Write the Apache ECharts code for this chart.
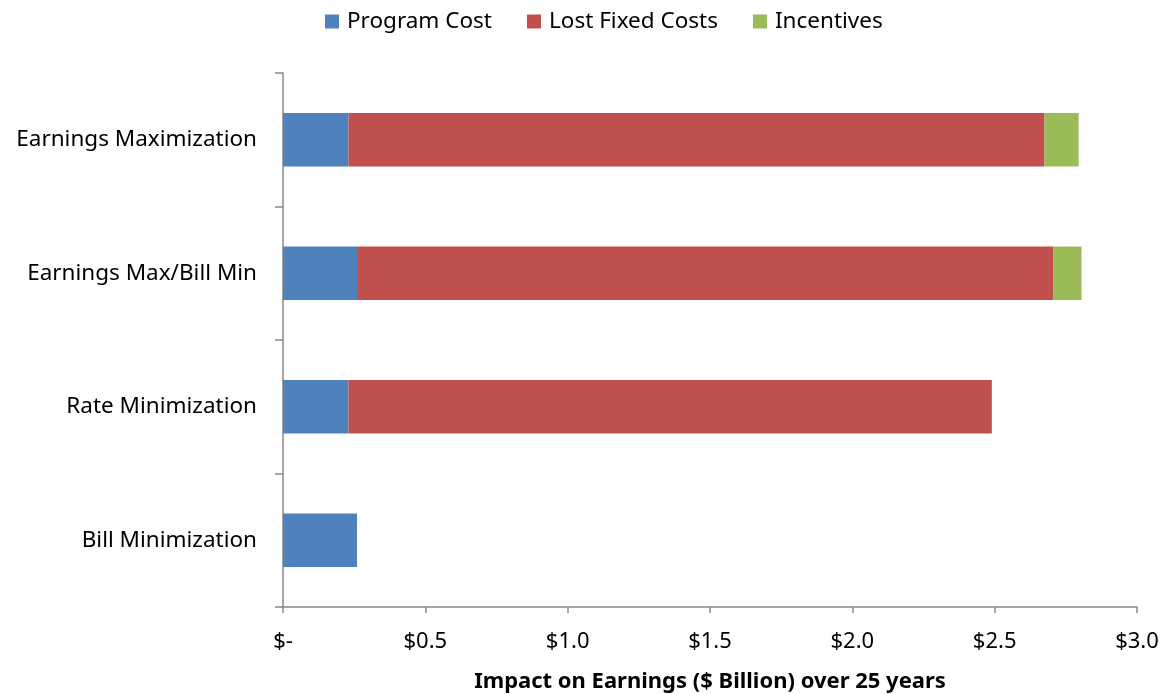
<!DOCTYPE html>
<html>
<head>
<meta charset="utf-8">
<script src="https://cdn.jsdelivr.net/npm/echarts@6/dist/echarts.min.js"></script>
<style>
  html, body { margin: 0; padding: 0; background: #fff; }
  #chart { width: 1163px; height: 694px; }
</style>
</head>
<body>
<div id="chart"></div>
<script>
// Scenarios, listed bottom to top as the category axis draws them
const categories = ['Bill Minimization', 'Rate Minimization', 'Earnings Max/Bill Min', 'Earnings Maximization'];
const programCost = [0.26, 0.23, 0.26, 0.23];
const lostFixedCosts = [0, 2.26, 2.445, 2.445];
const incentives = [0, 0, 0.10, 0.12];
const seriesNames = ['Program Cost', 'Lost Fixed Costs', 'Incentives'];
const colors = ['#4F81BD', '#C0504D', '#9BBB59'];
const axisTitle = 'Impact on Earnings ($ Billion) over 25 years';

const font = '"Noto Sans", "Open Sans", sans-serif';
const chart = echarts.init(document.getElementById('chart'));

function barSeries(name, data, color) {
  return {
    name: name,
    type: 'bar',
    stack: 'total',
    data: data,
    barWidth: '40%',
    itemStyle: { color: color },
    emphasis: { disabled: true }
  };
}

chart.setOption({
  animation: false,
  textStyle: { fontFamily: font },
  legend: {
    top: 5,
    left: 320,
    itemWidth: 14,
    itemHeight: 14,
    itemGap: 35,
    icon: 'rect',
    textStyle: { fontSize: 22.5, color: '#000', fontFamily: font, padding: [0, 0, 0, 3] },
    data: seriesNames
  },
  grid: { left: 283, right: 26, top: 73, bottom: 87, containLabel: false, outerBoundsMode: 'none' },
  xAxis: {
    type: 'value',
    min: 0,
    max: 3,
    interval: 0.5,
    name: axisTitle,
    nameLocation: 'middle',
    nameGap: 64,
    nameTextStyle: { fontSize: 22, fontWeight: 'bold', color: '#000', fontFamily: font },
    axisLine: { show: true, lineStyle: { color: '#898989', width: 1.5 } },
    axisTick: { show: true, length: 6, lineStyle: { color: '#898989', width: 1.5 } },
    axisLabel: {
      fontSize: 22, color: '#000', margin: 24,
      formatter: v => v === 0 ? '$-' : '$' + v.toFixed(1)
    },
    splitLine: { show: false }
  },
  yAxis: {
    type: 'category',
    data: categories,
    axisLine: { show: true, lineStyle: { color: '#898989', width: 1.5 } },
    axisTick: { show: true, length: 8, lineStyle: { color: '#898989', width: 1.5 } },
    axisLabel: { fontSize: 22.5, color: '#000', margin: 26 }
  },
  series: [
    barSeries(seriesNames[0], programCost, colors[0]),
    barSeries(seriesNames[1], lostFixedCosts, colors[1]),
    barSeries(seriesNames[2], incentives, colors[2])
  ]
});
</script>
</body>
</html>
